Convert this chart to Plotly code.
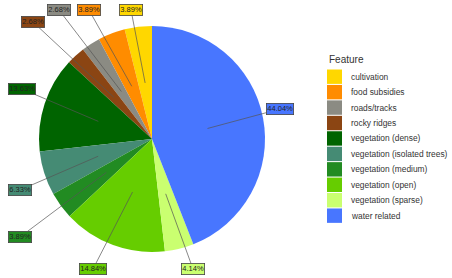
import math
import plotly.graph_objects as go

features = ["cultivation", "food subsidies", "roads/tracks", "rocky ridges",
            "vegetation (dense)", "vegetation (isolated trees)", "vegetation (medium)",
            "vegetation (open)", "vegetation (sparse)", "water related"]
percent = [3.89, 3.89, 2.68, 2.68, 13.63, 6.33, 3.89, 14.84, 4.14, 44.04]
colors = ["#FFD700", "#FF8C00", "#8B8B83", "#8B4513", "#006400",
          "#458B74", "#228B22", "#66CD00", "#CAFF70", "#4876FF"]
# label box centres (pixels), placed like the repelled labels of the original
label_pos = [(131, 10), (89, 10), (59, 10), (33, 22), (22, 89),
             (20, 190), (20, 237), (93, 269), (193, 269), (280, 109)]

W, H = 452, 278
cx, cy, R = 152, 139, 113
total = sum(percent)

fig = go.Figure(go.Pie(
    labels=features, values=percent, sort=False, direction="counterclockwise",
    rotation=-percent[0] / total * 360, textinfo="none", hoverinfo="label+percent",
    marker=dict(colors=colors, line=dict(width=0)),
    domain=dict(x=[(cx - R) / W, (cx + R) / W], y=[(H - cy - R) / H, (H - cy + R) / H]),
    showlegend=False,
))

cum = 0.0
for name, v, col, (lx, ly) in zip(features, percent, colors, label_pos):
    mid = (cum + v / 2) / total
    cum += v
    th = 2 * math.pi * mid
    r = 0.5 * R
    axp = cx - math.sin(th) * r
    ayp = cy - math.cos(th) * r
    fig.add_annotation(
        x=axp / W, y=1 - ayp / H, xref="paper", yref="paper",
        text=f"{v:.2f}%", showarrow=True, arrowhead=0, arrowwidth=0.7,
        arrowcolor="#555555", standoff=0,
        ax=lx - axp, ay=ly - ayp,
        bgcolor=col, bordercolor="#444444", borderwidth=0.8, borderpad=0.5,
        font=dict(family="Liberation Sans, Arial", size=7.5, color="#222222"),
    )

# legend drawn by hand to match the compact key spacing of the original
leg_x, leg_title_y, leg_y0, leg_step = 327, 59, 76.7, 15.44
fig.add_annotation(
    x=leg_x / W, y=1 - leg_title_y / H, xref="paper", yref="paper",
    text="Feature", showarrow=False, xanchor="left", yanchor="middle",
    font=dict(family="Liberation Sans, Arial", size=10, color="#333333"),
)
for i, (name, col) in enumerate(zip(features, colors)):
    yc = leg_y0 + i * leg_step
    fig.add_shape(
        type="rect", xref="paper", yref="paper",
        x0=leg_x / W, x1=(leg_x + 15) / W,
        y0=1 - (yc - 7.2) / H, y1=1 - (yc + 7.2) / H,
        fillcolor=col, line=dict(width=0),
    )
    fig.add_annotation(
        x=(leg_x + 22) / W, y=1 - yc / H, xref="paper", yref="paper",
        text=name, showarrow=False, xanchor="left", yanchor="middle",
        font=dict(family="Liberation Sans, Arial", size=8.4, color="#333333"),
    )

fig.update_layout(
    width=W, height=H, margin=dict(l=0, r=0, t=0, b=0),
    paper_bgcolor="white", plot_bgcolor="white",
    showlegend=False,
    font=dict(family="Liberation Sans, Arial"),
)

fig.write_html("out.html", config={"displayModeBar": False},
               post_script="document.body.style.margin='0';")
